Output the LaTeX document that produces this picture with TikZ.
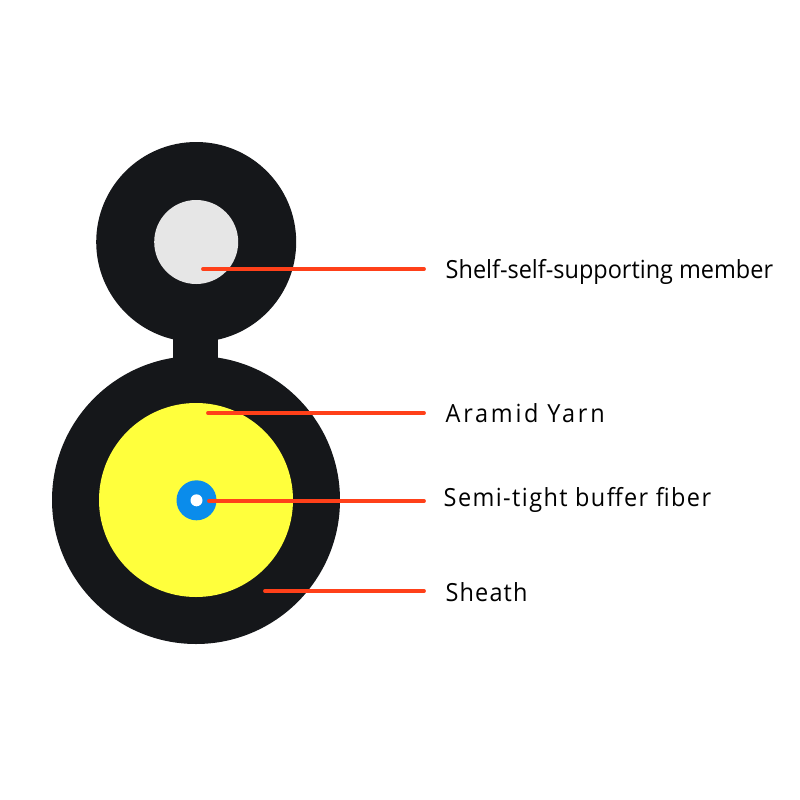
\documentclass[tikz,border=0pt]{standalone}
\usepackage{fontspec}
\setmainfont[FakeStretch=0.94]{Open Sans}
\definecolor{sheathblack}{HTML}{15171A}
\definecolor{memberwhite}{HTML}{E6E6E6}
\definecolor{yarnyellow}{HTML}{FFFF3C}
\definecolor{fiberblue}{HTML}{0A8CEB}
\definecolor{leadred}{HTML}{FF4019}
\tikzset{
	lead/.style={draw=leadred,line width=1.1pt,line cap=round},
	callout/.style={anchor=base west,inner sep=0pt,font=\fontsize{7.1pt}{9pt}\selectfont,text=black}
}
\begin{document}
\begin{tikzpicture}[x=0.01cm,y=-0.01cm]
\useasboundingbox (0,0) rectangle (800,800);
\coordinate[] (T) at (196.2,242);
\coordinate[] (B) at (196,500);
\coordinate[] (C) at (196.5,500.3);
\coordinate[] (M) at (203,269);
\coordinate[] (Y) at (208,413);
\coordinate[] (F) at (209,501);
\coordinate[] (S) at (265,591);
\coordinate[] (ME) at (424,269);
\coordinate[] (YE) at (424,413);
\coordinate[] (FE) at (424,501);
\coordinate[] (SE) at (424,591);
\fill [sheathblack] (T) circle (100);
\fill [sheathblack] (B) circle (144);
\fill [sheathblack] (173,330) rectangle (218,370);
\fill [memberwhite] (T) circle (42);
\fill [yarnyellow] (B) circle (97);
\fill [fiberblue] (C) circle (20);
\fill [white] (C) circle (6);
\draw [lead] (M) -- (ME);
\draw [lead] (Y) -- (YE);
\draw [lead] (F) -- (FE);
\draw [lead] (S) -- (SE);
\node[callout] (memberlabel) at (445,278) {Shelf-self-supporting member};
\node[callout] (yarnlabel) at (445,422) {\addfontfeature{LetterSpace=11}Aramid Yarn};
\node[callout] (fiberlabel) at (443,506) {\addfontfeature{LetterSpace=5.7}Semi-tight buffer fiber};
\node[callout] (sheathlabel) at (445,601) {\addfontfeature{LetterSpace=4.5}Sheath};
\end{tikzpicture}
\end{document}
